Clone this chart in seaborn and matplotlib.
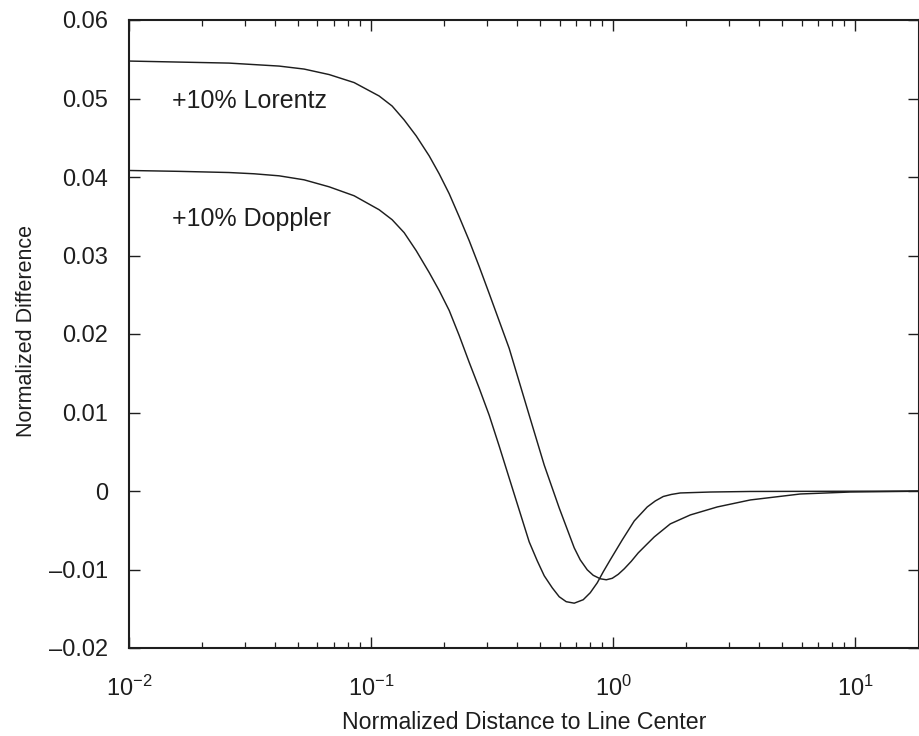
import numpy as np
import pandas as pd
import matplotlib
matplotlib.use("Agg")
import matplotlib.pyplot as plt
import seaborn as sns
from matplotlib.ticker import FixedLocator, FuncFormatter, LogLocator

# +10% Lorentz width: normalized distance from line center and normalized difference
lorentz_x = [0.01, 0.01609, 0.02589, 0.03285, 0.04168, 0.05286, 0.06706, 0.08506,
             0.1079, 0.1221, 0.1369, 0.1535, 0.1737, 0.1910, 0.2101, 0.2310, 0.2541,
             0.2795, 0.3073, 0.3717, 0.4496, 0.5187, 0.5981, 0.6899, 0.7304, 0.7809,
             0.8266, 0.8838, 0.9357, 0.9906, 1.0489, 1.1104, 1.1867, 1.2684, 1.3688,
             1.4768, 1.7199, 2.0806, 2.6902, 3.6822, 5.926, 9.535, 18.39]
lorentz_y = [0.05477, 0.05464, 0.05451, 0.05432, 0.05413, 0.05375, 0.05305, 0.05203,
             0.05032, 0.04904, 0.04727, 0.04524, 0.04269, 0.04041, 0.03787, 0.03494,
             0.03189, 0.02859, 0.02516, 0.01817, 0.00966, 0.00330, -0.00216, -0.00724,
             -0.00877, -0.01004, -0.01074, -0.01118, -0.01131, -0.01112, -0.01061,
             -0.00991, -0.00896, -0.00788, -0.00686, -0.00585, -0.00419, -0.00305,
             -0.00203, -0.00114, -0.00038, -0.00013, -0.00003]

# +10% Doppler width
doppler_x = [0.01, 0.01609, 0.02589, 0.03285, 0.04168, 0.05286, 0.06706, 0.08506,
             0.1079, 0.1221, 0.1369, 0.1535, 0.1737, 0.1910, 0.2101, 0.2310, 0.2541,
             0.2795, 0.3073, 0.3380, 0.3717, 0.4496, 0.4853, 0.5187, 0.5597, 0.5981,
             0.6393, 0.6899, 0.7516, 0.8035, 0.8590, 0.9093, 0.9719, 1.0893, 1.2212,
             1.3818, 1.4911, 1.6090, 1.7365, 1.8918, 2.5168, 3.6822, 9.535, 18.39]
doppler_y = [0.04083, 0.04072, 0.04057, 0.04041, 0.04015, 0.03964, 0.03875, 0.03761,
             0.03583, 0.03456, 0.03291, 0.03062, 0.02783, 0.02554, 0.02300, 0.01982,
             0.01639, 0.01309, 0.00966, 0.00572, 0.00165, -0.00648, -0.00889, -0.01080,
             -0.01233, -0.01347, -0.01410, -0.01429, -0.01385, -0.01296, -0.01169,
             -0.01029, -0.00877, -0.00623, -0.00381, -0.00203, -0.00127, -0.00070,
             -0.00044, -0.00025, -0.00013, -0.00006, -0.00003, 0.0]

y_ticks = [-0.02, -0.01, 0.0, 0.01, 0.02, 0.03, 0.04, 0.05, 0.06]
y_tick_labels = ["\u20130.02", "\u20130.01", "0", "0.01", "0.02", "0.03", "0.04", "0.05", "0.06"]
x_ticks = [0.01, 0.1, 1, 10]

df = pd.DataFrame({
    "distance": lorentz_x + doppler_x,
    "difference": lorentz_y + doppler_y,
    "case": ["+10% Lorentz"] * len(lorentz_x) + ["+10% Doppler"] * len(doppler_x),
})

sns.set_theme(style="ticks")
plt.rcParams["font.family"] = ["Liberation Sans", "DejaVu Sans"]
plt.rcParams["mathtext.fontset"] = "custom"
plt.rcParams["mathtext.rm"] = "Liberation Sans"
plt.rcParams["mathtext.it"] = "Liberation Sans"

ink = "#1e1e1e"
fig = plt.figure(figsize=(9.2, 7.36), dpi=100)
ax = fig.add_axes([129 / 920, 1 - 648 / 736, 790.5 / 920, 628 / 736])

sns.lineplot(data=df, x="distance", y="difference", units="case", estimator=None,
             color=ink, linewidth=1.05, sort=False, legend=False, ax=ax,
             solid_joinstyle="round")

ax.set_xscale("log")
ax.set_xlim(0.01, 18.4)
ax.set_ylim(-0.02, 0.06)

ax.yaxis.set_major_locator(FixedLocator(y_ticks))
ax.set_yticklabels(y_tick_labels)
ax.xaxis.set_major_locator(FixedLocator(x_ticks))
ax.xaxis.set_minor_locator(LogLocator(base=10, subs=np.arange(2, 10)))
ax.xaxis.set_major_formatter(FuncFormatter(
    lambda v, p: r"$\mathregular{10^{%d}}$" % int(round(np.log10(v)))))

ax.tick_params(axis="both", which="major", direction="in", length=8, width=1.0,
               top=True, right=True, labelsize=17, colors=ink)
ax.tick_params(axis="y", which="major", pad=15)
ax.tick_params(axis="x", which="major", pad=20)
ax.tick_params(axis="x", which="minor", direction="in", length=4, width=0.9,
               top=True, bottom=True, colors=ink)

for side in ax.spines.values():
    side.set_color(ink)
    side.set_linewidth(1.5)

ax.set_xlabel("Normalized Distance to Line Center", fontsize=16.7, color=ink, labelpad=7)
ax.set_ylabel("Normalized Difference", fontsize=15.5, color=ink)
ax.yaxis.set_label_coords(-0.117, 0.505)

ax.text(0.01506, 0.04883, "+10% Lorentz", fontsize=18, color=ink, va="baseline", ha="left")
ax.text(0.01506, 0.0338, "+10% Doppler", fontsize=18, color=ink, va="baseline", ha="left")

fig.savefig("out.png", dpi=100)
